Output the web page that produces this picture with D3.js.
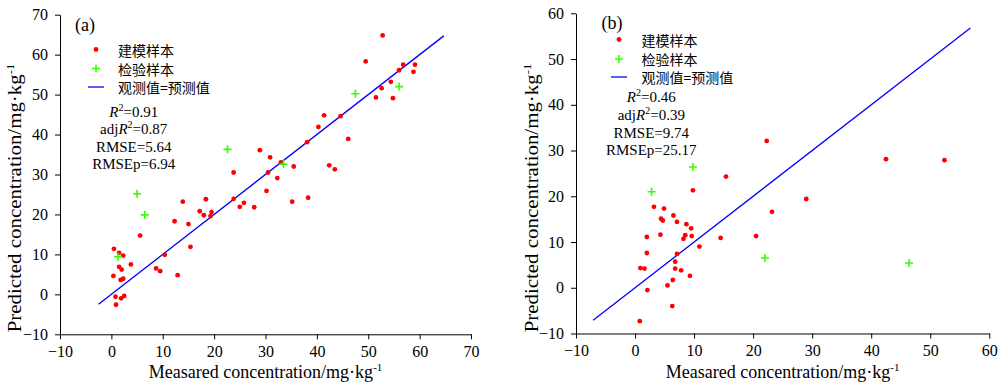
<!DOCTYPE html>
<html><head><meta charset="utf-8">
<script src="https://cdn.jsdelivr.net/npm/d3@7"></script>
<style>body{margin:0;background:#fff}svg{display:block}</style>
</head><body>
<svg id="chart" width="1000" height="385"></svg>
<script>
// ---------- data ----------
const xTicksA = [-10, 0, 10, 20, 30, 40, 50, 60, 70];
const yTicksA = [-10, 0, 10, 20, 30, 40, 50, 60, 70];
const xTicksB = [-10, 0, 10, 20, 30, 40, 50, 60];
const yTicksB = [-10, 0, 10, 20, 30, 40, 50, 60];

const calibAx = [52.8,49.5,56.8,59.1,56.0,58.8,54.4,52.6,51.5,54.8,41.4,44.6,40.3,38.1,46.1,28.9,30.9,33.0,35.5,42.4,43.5,23.8,30.5,32.3,30.2,23.8,35.2,38.3,25.0,25.8,27.8,13.9,18.4,17.2,18.0,19.5,19.3,12.3,15.0,5.6,15.4,0.5,1.5,2.3,10.4,3.8,1.5,2.0,8.7,9.5,12.9,0.4,2.3,1.8,0.8,2.5,1.9,0.9];
const calibAy = [64.8,58.3,57.5,57.5,56.1,55.7,53.2,51.6,49.3,49.1,44.8,44.6,41.9,38.1,38.9,36.1,34.3,33.0,32.0,32.3,31.3,30.5,30.5,29.1,25.9,23.9,23.2,24.2,21.9,22.9,21.8,23.2,23.8,20.8,19.8,20.6,19.6,18.3,17.6,14.7,11.9,11.4,10.4,9.7,9.9,7.5,6.9,6.2,6.5,5.8,4.8,4.6,3.9,3.6,-0.6,-0.4,-1.0,-2.6];
const validAx = [47.5,56.0,22.6,33.5,5.0,6.5,1.3];
const validAy = [50.2,52.0,36.3,32.6,25.2,19.9,9.4];
const lineA = [-2.5, 64.7];

const calibBx = [22.3,42.5,52.4,15.4,9.8,29.0,23.2,3.2,4.9,6.5,4.4,4.7,7.1,8.7,9.5,4.3,2.0,8.5,8.2,9.6,14.5,20.5,10.9,2.0,7.1,6.8,0.9,1.6,6.8,7.8,9.3,6.4,5.5,2.1,6.3,0.8];
const calibBy = [32.1,28.1,27.9,24.3,21.3,19.4,16.6,17.7,17.3,15.8,15.1,14.7,14.4,13.9,13.0,11.6,11.1,11.5,10.7,11.3,10.9,11.3,9.0,7.6,7.4,5.7,4.3,4.2,4.2,3.8,2.6,1.7,0.5,-0.5,-4.0,-7.3];
const validBx = [9.8,2.8,22.0,46.4];
const validBy = [26.4,21.0,6.5,5.4];
const lineB = [-7.1, 56.8];

const legendLabels = ["建模样本", "检验样本", "观测值=预测值"];
const statLabels = ["R2", "adjR2", "RMSE", "RMSEp"];
const statsA = [0.91, 0.87, 5.64, 6.94];
const statsB = [0.46, 0.39, 9.74, 25.17];
const xTitle = "Measared concentration/mg·kg";
const yTitle = "Predicted concentration/mg·kg";

// ---------- drawing ----------
const SERIF = "'Liberation Serif','Times New Roman',serif";
const CJK = "'Noto Sans CJK SC','Noto Sans CJK JP',sans-serif";
const RED = "#ff0000", GREEN = "#33ff00", BLUE = "#0000ff";
const svg = d3.select("#chart");
svg.append("rect").attr("width",1000).attr("height",385).attr("fill","#fff");

function panel(cfg) {
  const g = svg.append("g");
  const x = d3.scaleLinear().domain(cfg.xDom).range(cfg.xRange);
  const y = d3.scaleLinear().domain(cfg.yDom).range(cfg.yRange);
  const y0 = cfg.yRange[0], x0 = cfg.xRange[0];

  const ax = g.append("g").attr("transform",`translate(0,${y0})`)
    .call(d3.axisBottom(x).tickValues(cfg.xTicks).tickSize(5).tickPadding(6).tickSizeOuter(0).tickFormat(d3.format("d")));
  const ay = g.append("g").attr("transform",`translate(${x0},0)`)
    .call(d3.axisLeft(y).tickValues(cfg.yTicks).tickSize(5).tickPadding(7).tickSizeOuter(0).tickFormat(d3.format("d")));
  [ax, ay].forEach(a => {
    a.selectAll("path,line").attr("stroke","#000").attr("stroke-width",1);
    a.selectAll("text").attr("font-family",SERIF).attr("font-size",16).attr("fill","#000");
  });

  // 1:1 line
  g.append("line")
    .attr("x1",x(cfg.line[0])).attr("y1",y(cfg.line[0]))
    .attr("x2",x(cfg.line[1])).attr("y2",y(cfg.line[1]))
    .attr("stroke",BLUE).attr("stroke-width",1.3);

  // calibration points
  g.selectAll("circle.c").data(d3.range(cfg.cx.length)).join("circle")
    .attr("cx",i=>x(cfg.cx[i])).attr("cy",i=>y(cfg.cy[i])).attr("r",2.4).attr("fill",RED);
  // validation points (plus)
  g.selectAll("path.v").data(d3.range(cfg.vx.length)).join("path")
    .attr("d",i=>{const px=x(cfg.vx[i]),py=y(cfg.vy[i]);return `M${px-4},${py}H${px+4}M${px},${py-4}V${py+4}`;})
    .attr("stroke",GREEN).attr("stroke-width",1.6).attr("fill","none");

  // panel label
  g.append("text").attr("x",cfg.tag[0]).attr("y",cfg.tag[1]).attr("font-family",SERIF)
    .attr("font-size",18).text(cfg.tagText);

  // legend
  const L = cfg.legend;
  g.append("circle").attr("cx",L.mx).attr("cy",L.rows[0]).attr("r",2.4).attr("fill",RED);
  g.append("path").attr("d",`M${L.mx-4},${L.rows[1]}H${L.mx+4}M${L.mx},${L.rows[1]-4}V${L.rows[1]+4}`)
    .attr("stroke",GREEN).attr("stroke-width",1.6);
  g.append("line").attr("x1",L.mx-8).attr("x2",L.mx+8).attr("y1",L.rows[2]).attr("y2",L.rows[2])
    .attr("stroke",BLUE).attr("stroke-width",1.3);
  legendLabels.forEach((t,i)=>{
    g.append("text").attr("x",L.tx).attr("y",L.rows[i]+1).attr("dy","0.36em")
      .attr("font-family",CJK).attr("font-size",14).attr("fill","#000").text(t);
  });

  // stats
  statLabels.forEach((lab,i)=>{
    const t = g.append("text").attr("x",cfg.stats[0]).attr("y",cfg.stats[1]+i*17.6)
      .attr("text-anchor","middle").attr("font-family",SERIF).attr("font-size",15).attr("fill","#000");
    const v = cfg.statVals[i].toFixed(2);
    if (lab.endsWith("R2")) {
      if (lab.startsWith("adj")) t.append("tspan").text("adj");
      t.append("tspan").attr("font-style","italic").text("R");
      t.append("tspan").attr("dy",-6).attr("font-size",10).text("2");
      t.append("tspan").attr("dy",6).text("=" + v);
    } else {
      t.text(lab + "=" + v);
    }
  });

  // axis titles
  const xt = g.append("text").attr("x",(cfg.xRange[0]+cfg.xRange[1])/2).attr("y",378)
    .attr("text-anchor","middle").attr("font-family",SERIF).attr("font-size",18).attr("fill","#000");
  xt.append("tspan").text(xTitle);
  xt.append("tspan").attr("dy",-7).attr("font-size",11).text("-1");

  const yt = g.append("text").attr("transform",`translate(${cfg.yTitleX},198) rotate(-90) scale(1.16,1)`)
    .attr("text-anchor","middle").attr("font-family",SERIF).attr("font-size",18).attr("fill","#000");
  yt.append("tspan").text(yTitle);
  yt.append("tspan").attr("dy",-7).attr("font-size",11).text("-1");
}

panel({
  xDom:[-10,70], xRange:[60,471], yDom:[-10,70], yRange:[334.3,14.7],
  xTicks:xTicksA, yTicks:yTicksA, line:lineA,
  cx:calibAx, cy:calibAy, vx:validAx, vy:validAy,
  tag:[75,31], tagText:"(a)",
  legend:{mx:96, tx:118, rows:[49.5,68.5,87]},
  stats:[133.7,116.5], statVals:statsA, yTitleX:21
});
panel({
  xDom:[-10,60], xRange:[576,989.3], yDom:[-10,60], yRange:[333.5,13.3],
  xTicks:xTicksB, yTicks:yTicksB, line:lineB,
  cx:calibBx, cy:calibBy, vx:validBx, vy:validBy,
  tag:[601.5,29], tagText:"(b)",
  legend:{mx:619, tx:641.5, rows:[39.5,59,77]},
  stats:[651.3,102.3], statVals:statsB, yTitleX:538
});
</script>
</body></html>
